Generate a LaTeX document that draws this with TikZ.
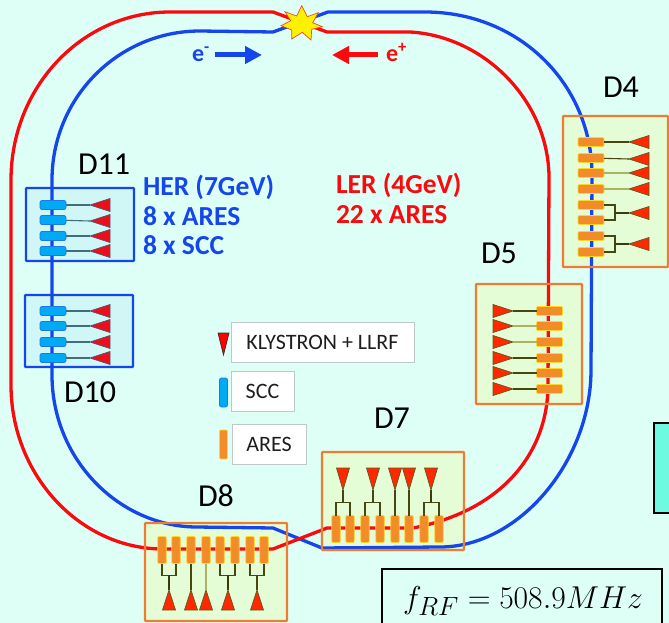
\documentclass[tikz,border=0pt]{standalone}
\usepackage{xcolor}
\usepackage{amsmath}
\usepackage{graphicx}
\usepackage{fontspec}
\setmainfont{Carlito}
\usepackage{tikz}
\usetikzlibrary{arrows.meta,shapes.geometric}
\definecolor{pagebg}{RGB}{222,255,246}
\definecolor{ringblue}{RGB}{20,70,235}
\definecolor{ringred}{RGB}{250,10,15}
\definecolor{boxorange}{RGB}{237,125,49}
\definecolor{boxgreen}{RGB}{228,253,214}
\definecolor{boxcyan}{RGB}{208,247,245}
\tikzset{
  ring/.style={line width=3.3pt,line join=round},
  dzone/.style={draw=none,inner sep=0pt,outer sep=0pt},
  dedge/.style={line width=2.2pt,rounded corners=.6pt},
  ares/.style={rectangle,rounded corners=1.2pt,draw={rgb,255:red,255;green,214;blue,40},fill={rgb,255:red,242;green,140;blue,40},line width=.7pt,inner sep=0pt,outer sep=0pt},
  ahoriz/.style={ares,minimum width=26pt,minimum height=9pt},
  avert/.style={ares,minimum width=8.5pt,minimum height=27pt},
  scc/.style={rectangle,rounded corners=2pt,draw={rgb,255:red,30;green,120;blue,230},fill={rgb,255:red,0;green,170;blue,245},line width=.7pt,inner sep=0pt,outer sep=0pt,minimum width=26pt,minimum height=9pt},
  klystron/.style={isosceles triangle,isosceles triangle stretches,minimum width=13pt,minimum height=20pt,inner sep=0pt,outer sep=0pt,draw={rgb,255:red,90;green,90;blue,30},fill={rgb,255:red,255;green,40;blue,0},line width=.7pt,anchor=apex},
  kleft/.style={klystron,shape border rotate=180},
  kright/.style={klystron,shape border rotate=0},
  kdown/.style={klystron,shape border rotate=-90,minimum height=22pt},
  kup/.style={klystron,shape border rotate=90},
  kblue/.style={kleft,fill={rgb,255:red,235;green,15;blue,25},draw={rgb,255:red,70;green,90;blue,120}},
  wire/.style={draw={rgb,255:red,70;green,70;blue,15},line width=1.1pt},
  wirestem/.style={draw={rgb,255:red,60;green,60;blue,10},line width=2pt},
  wirepale/.style={draw={rgb,255:red,170;green,178;blue,100},line width=1.1pt},
  wireteal/.style={draw={rgb,255:red,60;green,110;blue,125},line width=1.1pt},
  dlabel/.style={inner sep=0pt,outer sep=0pt,anchor=base west,text=black,font=\fontsize{32}{38}\selectfont},
  rftext/.style={inner sep=0pt,outer sep=0pt,anchor=base west,font=\bfseries\fontsize{27.5}{32}\selectfont},
  legendbox/.style={fill=white,draw={rgb,255:red,190;green,200;blue,200},line width=.7pt,inner sep=0pt,outer sep=0pt,text={rgb,255:red,30;green,30;blue,30},font=\fontsize{22}{26}\selectfont},
  beamarrow/.style={-{Triangle[length=17pt,width=17pt]},line width=5pt}
}
\begin{document}
\begin{tikzpicture}[x=1pt,y=-1pt]
\path[use as bounding box] (0,0) rectangle (669,623);
\path[fill=pagebg,draw=none] (0,0) rectangle (669,623);
\node[dzone,fill=boxgreen,minimum width=105pt,minimum height=151pt] (dfour) at (615.5,191.5) {};
\node[dzone,fill=boxcyan,minimum width=108pt,minimum height=73pt] (deleven) at (80,224.5) {};
\node[dzone,fill=boxcyan,minimum width=108pt,minimum height=72pt] (dten) at (79,331) {};
\node[dzone,fill=boxgreen,minimum width=106pt,minimum height=120pt] (dfive) at (529,344) {};
\node[dzone,fill=boxgreen,minimum width=142pt,minimum height=98pt] (dseven) at (393,501) {};
\node[dzone,fill=boxgreen,minimum width=142pt,minimum height=98pt] (deight) at (216,572) {};
\draw[ring,draw=ringblue] (273,32) -- (328,12) -- (425,12) .. controls (520,12) and (592,85) .. (592,175) -- (591,370) .. controls (591,460) and (520,547) .. (440,547) -- (322,548) -- (273,528) -- (197,527) .. controls (120,527) and (52,460) .. (52,375) -- (52,180) .. controls (52,98) and (118,31) .. (200,31) -- cycle;
\draw[ring,draw=ringred] (273,12) -- (327,32) -- (410,32) .. controls (482,36) and (547,98) .. (549,175) -- (548,385) .. controls (548,450) and (505,510) .. (413,528) -- (327,528) -- (273,549) -- (163,549) .. controls (80,549) and (11,475) .. (11,385) -- (11,180) .. controls (11,87) and (82,12) .. (170,12) -- cycle;
\draw[dedge,draw=boxorange] (dfour.north west) rectangle (dfour.south east);
\draw[dedge,draw=ringblue] (deleven.north west) rectangle (deleven.south east);
\draw[dedge,draw=ringblue] (dten.north west) rectangle (dten.south east);
\draw[dedge,draw=boxorange] (dfive.north west) rectangle (dfive.south east);
\draw[dedge,draw=boxorange] (dseven.north west) rectangle (dseven.south east);
\draw[dedge,draw=boxorange] (deight.north west) rectangle (deight.south east);
\path[fill=yellow,draw={rgb,255:red,240;green,70;blue,40},line width=.7pt] (301.7,5.7) -- (307.3,16.7) -- (318.3,12.7) -- (312.7,22.7) -- (322.3,26.7) -- (311.7,29.3) -- (311,40) -- (302.3,32.3) -- (291.7,39) -- (291.7,30) -- (281,25.7) -- (290.7,20.7) -- (285,11.7) -- (296.7,16) -- cycle;
\node[dlabel] at (603,98) {D4};
\node[dlabel] at (78,174) {D11};
\node[dlabel] at (64,402) {D10};
\node[dlabel] at (481,263) {D5};
\node[dlabel] at (374,428) {D7};
\node[dlabel] at (198,506) {D8};
\node[rftext,text=ringblue] at (143,195) {HER (7GeV)};
\node[rftext,text=ringblue] at (143,225) {8 x ARES};
\node[rftext,text=ringblue] at (143,254) {8 x SCC};
\node[rftext,text=ringred] at (336,193) {LER (4GeV)};
\node[rftext,text=ringred] at (336,223) {22 x ARES};
\node[rftext,text=ringblue,font=\bfseries\fontsize{24}{28}\selectfont] at (192,62) {e\textsuperscript{-}};
\node[rftext,text=ringred,font=\bfseries\fontsize{24}{28}\selectfont] at (386,62) {e\textsuperscript{+}};
\coordinate (eminusa) at (215,55);
\coordinate (eminusb) at (262,55);
\coordinate (eplusa) at (378,55);
\coordinate (eplusb) at (332,55);
\draw[beamarrow,draw=ringblue] (eminusa) -- (eminusb);
\draw[beamarrow,draw=ringred] (eplusa) -- (eplusb);
\node[ahoriz] (dfourc1) at (591,142) {};
\node[ahoriz] (dfourc2) at (591,158) {};
\node[ahoriz] (dfourc3) at (591,173) {};
\node[ahoriz] (dfourc4) at (591,189) {};
\node[ahoriz] (dfourc5) at (591,205) {};
\node[ahoriz] (dfourc6) at (591,220) {};
\node[ahoriz] (dfourc7) at (591,236) {};
\node[ahoriz] (dfourc8) at (591,252) {};
\node[kleft] (dfourk1) at (629,142) {};
\node[kleft] (dfourk2) at (629,159) {};
\node[kleft] (dfourk3) at (629,173) {};
\node[kleft] (dfourk4) at (629,189) {};
\node[kleft] (dfourk5) at (629,213) {};
\node[kleft] (dfourk6) at (629,244) {};
\draw[wire] (dfourc1) -- (dfourk1.apex);
\draw[wire] (dfourc2) -- (dfourk2.apex);
\draw[wirepale] (dfourc3) -- (dfourk3.apex);
\draw[wirepale] (dfourc4) -- (dfourk4.apex);
\draw[wire] (dfourc5.east) -- ++(11,0) |- (dfourc6.east);
\draw[wirestem] (dfourk5.apex) -- ++(-14,0);
\draw[wire] (dfourc7.east) -- ++(11,0) |- (dfourc8.east);
\draw[wirestem] (dfourk6.apex) -- ++(-14,0);
\node[scc] (delevenc1) at (53,205) {};
\node[scc] (delevenc2) at (53,220) {};
\node[scc] (delevenc3) at (53,236) {};
\node[scc] (delevenc4) at (53,251) {};
\node[kblue] (delevenk1) at (90,205) {};
\node[kblue] (delevenk2) at (90,221) {};
\node[kblue] (delevenk3) at (90,236) {};
\node[kblue] (delevenk4) at (90,251) {};
\draw[wireteal] (delevenc1) -- (delevenk1.apex);
\draw[wireteal] (delevenc2) -- (delevenk2.apex);
\draw[wireteal] (delevenc3) -- (delevenk3.apex);
\draw[wireteal] (delevenc4) -- (delevenk4.apex);
\node[scc] (dtenc1) at (53,311) {};
\node[scc] (dtenc2) at (53,326) {};
\node[scc] (dtenc3) at (53,342) {};
\node[scc] (dtenc4) at (53,358) {};
\node[kblue] (dtenk1) at (90,311) {};
\node[kblue] (dtenk2) at (90,326) {};
\node[kblue] (dtenk3) at (90,342) {};
\node[kblue] (dtenk4) at (90,358) {};
\draw[wireteal] (dtenc1) -- (dtenk1.apex);
\draw[wireteal] (dtenc2) -- (dtenk2.apex);
\draw[wireteal] (dtenc3) -- (dtenk3.apex);
\draw[wireteal] (dtenc4) -- (dtenk4.apex);
\node[ahoriz] (dfivec1) at (549.5,311) {};
\node[ahoriz] (dfivec2) at (549.5,326) {};
\node[ahoriz] (dfivec3) at (549.5,342) {};
\node[ahoriz] (dfivec4) at (549.5,358) {};
\node[ahoriz] (dfivec5) at (549.5,373) {};
\node[ahoriz] (dfivec6) at (549.5,389) {};
\node[kright] (dfivek1) at (513,311) {};
\node[kright] (dfivek2) at (513,326) {};
\node[kright] (dfivek3) at (513,342) {};
\node[kright] (dfivek4) at (513,358) {};
\node[kright] (dfivek5) at (513,373) {};
\node[kright] (dfivek6) at (513,389) {};
\draw[wire] (dfivec1) -- (dfivek1.apex);
\draw[wirepale] (dfivec2) -- (dfivek2.apex);
\draw[wirepale] (dfivec3) -- (dfivek3.apex);
\draw[wire] (dfivec4) -- (dfivek4.apex);
\draw[wire] (dfivec5) -- (dfivek5.apex);
\draw[wire] (dfivec6) -- (dfivek6.apex);
\node[avert] (dsevenc1) at (336,529) {};
\node[avert] (dsevenc2) at (350,529) {};
\node[avert] (dsevenc3) at (365,529) {};
\node[avert] (dsevenc4) at (380,529) {};
\node[avert] (dsevenc5) at (395,529) {};
\node[avert] (dsevenc6) at (409,529) {};
\node[avert] (dsevenc7) at (424,529) {};
\node[avert] (dsevenc8) at (439,529) {};
\node[kdown] (dsevenk1) at (343,490) {};
\node[kdown] (dsevenk2) at (373,490) {};
\node[kdown] (dsevenk3) at (395,490) {};
\node[kdown] (dsevenk4) at (409,490) {};
\node[kdown] (dsevenk5) at (431,490) {};
\draw[wire] (dsevenc1.north) -- ++(0,-13) -| (dsevenc2.north);
\draw[wire] (dsevenk1.apex) -- ++(0,13);
\draw[wire] (dsevenc3.north) -- ++(0,-13) -| (dsevenc4.north);
\draw[wire] (dsevenk2.apex) -- ++(0,13);
\draw[wire] (dsevenk3.apex) -- (dsevenc5.north);
\draw[wire] (dsevenk4.apex) -- (dsevenc6.north);
\draw[wire] (dsevenc7.north) -- ++(0,-13) -| (dsevenc8.north);
\draw[wirestem] (dsevenk5.apex) -- ++(0,13);
\node[avert] (deightc1) at (162,550) {};
\node[avert] (deightc2) at (176,550) {};
\node[avert] (deightc3) at (191,550) {};
\node[avert] (deightc4) at (206,550) {};
\node[avert] (deightc5) at (220,550) {};
\node[avert] (deightc6) at (235,550) {};
\node[avert] (deightc7) at (250,550) {};
\node[avert] (deightc8) at (264,550) {};
\node[kup] (deightk1) at (169,590) {};
\node[kup] (deightk2) at (191,590) {};
\node[kup] (deightk3) at (206,590) {};
\node[kup] (deightk4) at (228,590) {};
\node[kup] (deightk5) at (257,590) {};
\draw[wire] (deightc1.south) -- ++(0,12) -| (deightc2.south);
\draw[wirestem] (deightk1.apex) -- ++(0,-15);
\draw[wire] (deightk2.apex) -- (deightc3.south);
\draw[wirepale] (deightk3.apex) -- (deightc4.south);
\draw[wire] (deightc5.south) -- ++(0,12) -| (deightc6.south);
\draw[wirestem] (deightk4.apex) -- ++(0,-15);
\draw[wire] (deightc7.south) -- ++(0,12) -| (deightc8.south);
\draw[wire] (deightk5.apex) -- ++(0,-15);
\node[legendbox,minimum width=183pt,minimum height=40pt] (legklystron) at (322.5,342) {KLYSTRON + LLRF};
\node[legendbox,minimum width=63pt,minimum height=40pt] (legscc) at (262.5,391) {SCC};
\node[legendbox,minimum width=74pt,minimum height=40pt] (legares) at (269,444) {ARES};
\node[klystron,shape border rotate=-90,minimum width=11pt,minimum height=22pt,fill=red,draw={rgb,255:red,60;green,40;blue,30}] (iconklystron) at (223.5,355) {};
\node[scc,minimum width=8pt,minimum height=29pt] (iconscc) at (223.5,392.5) {};
\node[ares,minimum width=8pt,minimum height=29pt] (iconares) at (223.5,444.5) {};
\node[draw=black,line width=1.3pt,fill=pagebg,minimum width=280pt,minimum height=70pt,inner sep=0pt,outer sep=0pt] (frfbox) at (522,604) {};
\node[inner sep=0pt,outer sep=0pt,anchor=base west] at (403,608) {\scalebox{1.27}{\Huge $f_{RF}=508.9MHz$}};
\node[draw=black,line width=1.8pt,fill={rgb,255:red,110;green,250;blue,225},minimum width=40pt,minimum height=90pt,inner sep=0pt,outer sep=0pt] (edgebox) at (674,468) {};
\end{tikzpicture}
\end{document}
